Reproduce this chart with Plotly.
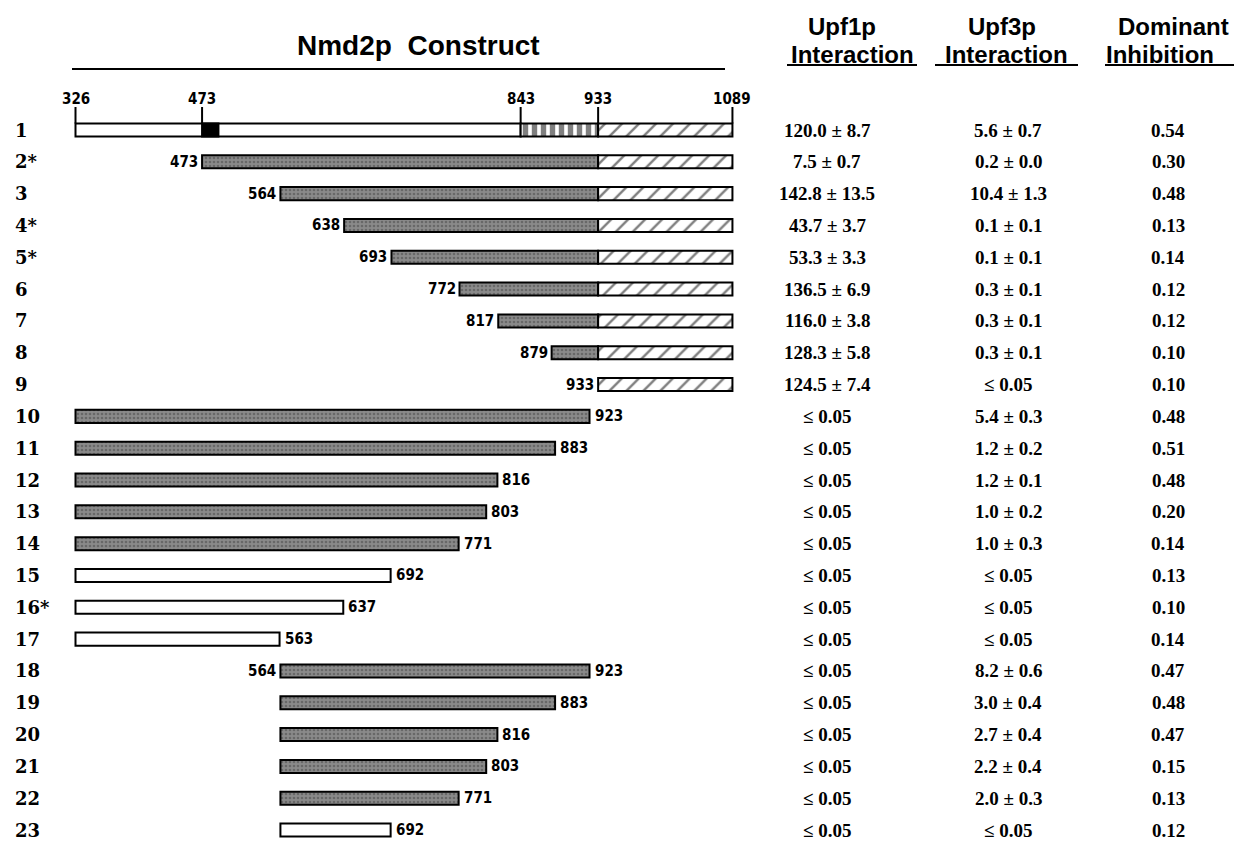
import plotly.graph_objects as go

PAGE_W, PAGE_H = 1242, 844
OFF = 8                      # default body margin of the html page
W, H = PAGE_W - OFF, PAGE_H - OFF

# ---------------- data ----------------
row_labels = ["1", "2*", "3", "4*", "5*", "6", "7", "8", "9", "10", "11", "12",
              "13", "14", "15", "16*", "17", "18", "19", "20", "21", "22", "23"]
construct_start = [326, 473, 564, 638, 693, 772, 817, 879, 933,
                   326, 326, 326, 326, 326, 326, 326, 326,
                   564, 564, 564, 564, 564, 564]
construct_end = [1089, 1089, 1089, 1089, 1089, 1089, 1089, 1089, 1089,
                 923, 883, 816, 803, 771, 692, 637, 563,
                 923, 883, 816, 803, 771, 692]
body_style = ["full", "gray", "gray", "gray", "gray", "gray", "gray", "gray", "none",
              "gray", "gray", "gray", "gray", "gray", "white", "white", "white",
              "gray", "gray", "gray", "gray", "gray", "white"]
show_start = [False, True, True, True, True, True, True, True, True,
              False, False, False, False, False, False, False, False,
              True, False, False, False, False, False]
show_end = [False] * 9 + [True] * 14

upf1 = ["120.0 ± 8.7", "7.5 ± 0.7", "142.8 ± 13.5", "43.7 ± 3.7", "53.3 ± 3.3",
        "136.5 ± 6.9", "116.0 ± 3.8", "128.3 ± 5.8", "124.5 ± 7.4"] + ["≤ 0.05"] * 14
upf3 = ["5.6 ± 0.7", "0.2 ± 0.0", "10.4 ± 1.3", "0.1 ± 0.1", "0.1 ± 0.1", "0.3 ± 0.1",
        "0.3 ± 0.1", "0.3 ± 0.1", "≤ 0.05", "5.4 ± 0.3", "1.2 ± 0.2", "1.2 ± 0.1",
        "1.0 ± 0.2", "1.0 ± 0.3", "≤ 0.05", "≤ 0.05", "≤ 0.05", "8.2 ± 0.6",
        "3.0 ± 0.4", "2.7 ± 0.4", "2.2 ± 0.4", "2.0 ± 0.3", "≤ 0.05"]
dominant = ["0.54", "0.30", "0.48", "0.13", "0.14", "0.12", "0.12", "0.10", "0.10",
            "0.48", "0.51", "0.48", "0.20", "0.14", "0.13", "0.10", "0.14",
            "0.47", "0.48", "0.47", "0.15", "0.13", "0.12"]

domain_ticks = [326, 473, 843, 933, 1089]
black_box = [473, 492]
striped = [843, 933]
tail = [933, 1089]

# ---------------- geometry helpers (page pixels) ----------------
PX0, RES0, SCALE = 75.5, 326, 0.861          # page pixel of residue 326, px per residue
ROW1_PX, ROW_STEP = 130, 31.82
BAR_W = 0.41


def res_at(p):
    return RES0 + (p - PX0) / SCALE


def py2row(p):
    return 1 + (p - ROW1_PX) / ROW_STEP


X_RANGE = [res_at(OFF), res_at(PAGE_W)]
Y_RANGE = [py2row(PAGE_H), py2row(OFF)]


def px(p):
    return (p - OFF) / W


def py(p):
    return 1 - (p - OFF) / H


# ---------------- segments ----------------
seg = {k: {"y": [], "base": [], "len": []} for k in ["white", "gray", "black", "stripe", "hatch"]}


def add(kind, row, a, b):
    seg[kind]["y"].append(row)
    seg[kind]["base"].append(a)
    seg[kind]["len"].append(b - a)


n = len(row_labels)
for i in range(n):
    r = i + 1
    s, e, st = construct_start[i], construct_end[i], body_style[i]
    body_end = min(e, tail[0])
    if st == "full":
        add("white", r, s, striped[0])
        add("black", r, black_box[0], black_box[1])
        add("stripe", r, striped[0], striped[1])
    elif st in ("gray", "white") and body_end > s:
        add(st, r, s, body_end)
    if e > tail[0]:
        add("hatch", r, tail[0], e)

styles = {
    "white": dict(color="white"),
    "gray": dict(color="#888888",
                 pattern=dict(shape=".", bgcolor="#8a8a8a", fgcolor="#454545", size=4, solidity=0.35)),
    "black": dict(color="black"),
    "stripe": dict(color="white",
                   pattern=dict(shape="|", bgcolor="white", fgcolor="black", size=9, solidity=0.6)),
    "hatch": dict(color="white",
                  pattern=dict(shape="/", bgcolor="white", fgcolor="black", size=12, solidity=0.2)),
}

fig = go.Figure()
for kind in ["white", "gray", "black", "stripe", "hatch"]:
    d = seg[kind]
    if not d["y"]:
        continue
    m = dict(styles[kind])
    m["line"] = dict(color="black", width=2)
    fig.add_trace(go.Bar(orientation="h", y=d["y"], x=d["len"], base=d["base"],
                         width=BAR_W, marker=m, hoverinfo="skip", showlegend=False))

annotations = []
shapes = []

LABEL_FONT = dict(family="Liberation Sans Narrow, DejaVu Sans Condensed, Arial Narrow, sans-serif",
                  size=15, color="black", weight="bold")
ROW_FONT = dict(family="DejaVu Serif, serif", size=18, color="black", weight="bold")
VAL_FONT = dict(family="Liberation Serif, Times New Roman, serif", size=19, color="black", weight="bold")
HEAD_FONT = dict(family="Liberation Sans, Arial, sans-serif", size=24, color="black", weight="bold")

for i in range(n):
    r = i + 1
    annotations.append(dict(x=px(13), xref="paper", y=r, yref="y", text=row_labels[i],
                            xanchor="left", yanchor="middle", showarrow=False, font=ROW_FONT))
    if show_start[i]:
        annotations.append(dict(x=construct_start[i], xref="x", y=r, yref="y",
                                text=str(construct_start[i]), xanchor="right", yanchor="middle",
                                xshift=-2, showarrow=False, font=LABEL_FONT))
    if show_end[i]:
        annotations.append(dict(x=construct_end[i], xref="x", y=r, yref="y",
                                text=str(construct_end[i]), xanchor="left", yanchor="middle",
                                xshift=3, showarrow=False, font=LABEL_FONT))
    for col_px, txt in [(827, upf1[i]), (1008, upf3[i]), (1168, dominant[i])]:
        annotations.append(dict(x=px(col_px), xref="paper", y=r, yref="y", text=txt,
                                xanchor="center", yanchor="middle", showarrow=False, font=VAL_FONT))

# domain ticks above construct 1
for t in domain_ticks:
    shapes.append(dict(type="line", xref="x", yref="y", x0=t, x1=t,
                       y0=1 - BAR_W / 2, y1=py2row(107), line=dict(color="black", width=2)))
    annotations.append(dict(x=t, xref="x", y=py2row(99), yref="y", text=str(t),
                            xanchor="center", yanchor="middle", showarrow=False, font=LABEL_FONT))

# headers
headers = [("Nmd2p  Construct", 418, 45, 28),
           ("Upf1p", 842, 27, 24), ("Interaction", 852, 54, 24),
           ("Upf3p", 1002, 27, 24), ("Interaction", 1006, 54, 24),
           ("Dominant", 1173, 27, 24), ("Inhibition", 1160, 54, 24)]
for txt, hx, hy, size in headers:
    f = dict(HEAD_FONT)
    f["size"] = size
    annotations.append(dict(x=px(hx), xref="paper", y=py(hy), yref="paper", text=txt,
                            xanchor="center", yanchor="middle", showarrow=False, font=f))

for x0, x1, yl in [(72, 725, 69), (787, 917, 65), (935, 1078, 65), (1105, 1240, 65)]:
    shapes.append(dict(type="line", xref="paper", yref="paper", x0=px(x0), x1=px(x1),
                       y0=py(yl), y1=py(yl), line=dict(color="black", width=2)))

fig.update_layout(
    width=W, height=H, autosize=False,
    margin=dict(l=0, r=0, t=0, b=0),
    paper_bgcolor="white", plot_bgcolor="white",
    barmode="overlay",
    xaxis=dict(range=X_RANGE, visible=False, fixedrange=True),
    yaxis=dict(range=Y_RANGE, visible=False, fixedrange=True),
    annotations=annotations, shapes=shapes,
    showlegend=False,
)

fig.write_html("out.html")
